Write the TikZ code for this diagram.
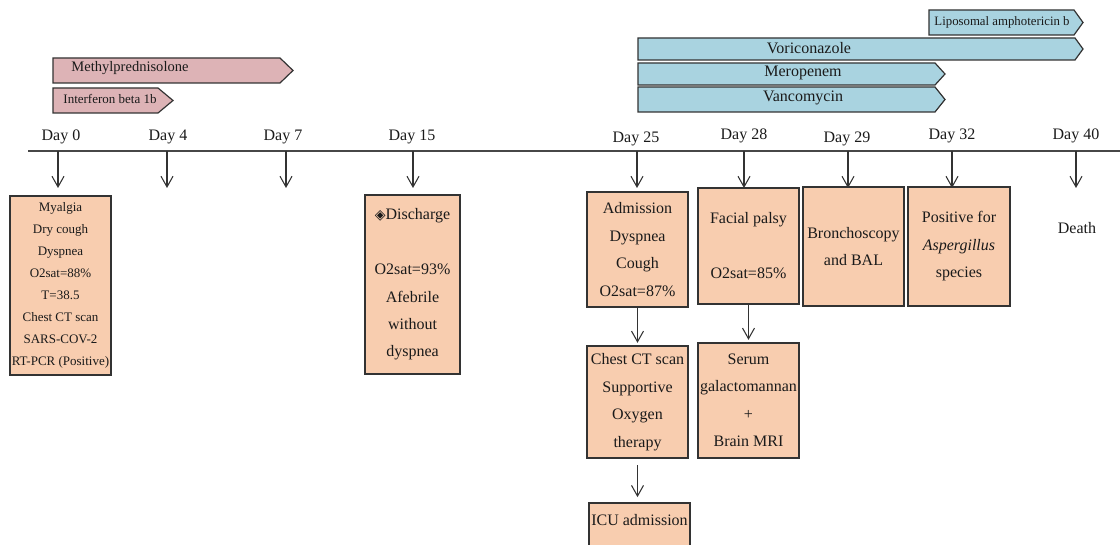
\documentclass[tikz,border=0pt]{standalone}
\usepackage{fontspec}
\setmainfont{Liberation Serif}
\newfontfamily\symfont{DejaVu Sans}
\usetikzlibrary{arrows.meta}
\definecolor{pinkfill}{HTML}{DDB3B6}
\definecolor{bluefill}{HTML}{A9D3E0}
\definecolor{peach}{HTML}{F8CDAF}
\definecolor{edge}{HTML}{333333}
\definecolor{txt}{HTML}{1A1A1A}
\begin{document}
\begin{tikzpicture}[x=0.75pt,y=-0.75pt,
  drug/.style={draw=edge, line width=0.9pt},
  drugtext/.style={text=txt, inner sep=0pt},
  big/.style={font=\fontsize{12}{20.6}\selectfont},
  small/.style={font=\fontsize{9.75}{16.5}\selectfont},
  box/.style={draw=edge, fill=peach, line width=0.8pt, align=center, inner sep=0pt, text=txt, big},
  arr/.style={draw=edge, line width=0.8pt, -{Straight Barb[length=8pt,width=9pt]}},
  tline/.style={draw=edge!90, line width=1.1pt},
  daylab/.style={text=txt, inner sep=0pt, big}
]
\useasboundingbox (0,0) rectangle (1120,545);
\fill[white] (0,0) rectangle (1120,545);

% ---- drug bars ----
\draw[drug, fill=pinkfill] (53,58) -- (280,58) -- (293,70.5) -- (280,83) -- (53,83) -- cycle;
\node[drugtext, font=\fontsize{10.9}{13}\selectfont] (methyl) at (130,68) {Methylprednisolone};
\draw[drug, fill=pinkfill] (53,88) -- (158,88) -- (173,100.5) -- (158,113) -- (53,113) -- cycle;
\node[drugtext, font=\fontsize{9.75}{12}\selectfont] (ifn) at (110,99) {Interferon beta 1b};

\draw[drug, fill=bluefill] (929,10) -- (1074,10) -- (1083,22.5) -- (1074,35) -- (929,35) -- cycle;
\node[drugtext, font=\fontsize{9.6}{12}\selectfont] (lipo) at (1002,22) {Liposomal amphotericin b};
\draw[drug, fill=bluefill] (638,38) -- (1075,38) -- (1083,49) -- (1075,60) -- (638,60) -- cycle;
\node[drugtext, big] (vori) at (809,48) {Voriconazole};
\draw[drug, fill=bluefill] (638,63) -- (935,63) -- (945,74) -- (935,85) -- (638,85) -- cycle;
\node[drugtext, big] (mero) at (803,73) {Meropenem};
\draw[drug, fill=bluefill] (638,87) -- (935,87) -- (945,99.5) -- (935,112) -- (638,112) -- cycle;
\node[drugtext, big] (vanco) at (803,98) {Vancomycin};

% ---- timeline ----
\coordinate (tlL) at (28,151);
\coordinate (tlR) at (1120,151);
\draw[tline] (tlL) -- (tlR);

\node[daylab] (d0)  at (61,137)   {Day 0};
\node[daylab] (d4)  at (168,137)  {Day 4};
\node[daylab] (d7)  at (283,137)  {Day 7};
\node[daylab] (d15) at (412,137)  {Day 15};
\node[daylab] (d25) at (636,139)  {Day 25};
\node[daylab] (d28) at (744,136)  {Day 28};
\node[daylab] (d29) at (847,139)  {Day 29};
\node[daylab] (d32) at (952,136)  {Day 32};
\node[daylab] (d40) at (1076,136) {Day 40};

\foreach \n/\x in {0/58,4/167,7/286,15/413,25/637,28/744,29/848,32/952,40/1076}{
  \coordinate (t\n) at (\x,151);
  \coordinate (e\n) at (\x,188);
  \draw[arr] (t\n) -- (e\n);
}

% ---- boxes ----
\node[box, small, minimum width=75.75pt, minimum height=134.25pt] (b0) at (60.5,285.5)
  {Myalgia\\Dry cough\\Dyspnea\\O2sat=88\%\\T=38.5\\Chest CT scan\\SARS-COV-2\\RT-PCR (Positive)};
\node[box, minimum width=71.25pt, minimum height=134.25pt] (b15) at (412.5,284.5)
  {{\symfont\fontsize{10.5}{10.5}\selectfont ◈}Discharge\\ \\O2sat=93\%\\Afebrile\\without\\dyspnea};
\node[box, minimum width=75.75pt, minimum height=86.25pt] (b25) at (637.5,249.5)
  {Admission\\Dyspnea\\Cough\\O2sat=87\%};
\node[box, minimum width=75.75pt, minimum height=87pt] (b28) at (748.5,246)
  {Facial palsy\\ \\O2sat=85\%};
\node[box, minimum width=75.75pt, minimum height=89.25pt] (b29) at (853.5,246.5)
  {Bronchoscopy\\and BAL};
\node[box, minimum width=76.5pt, minimum height=89.25pt] (b32) at (959,246.5)
  {Positive for\\\textit{Aspergillus}\\species};
\node[box, minimum width=75.75pt, minimum height=84pt] (ct) at (637.5,402)
  {Chest CT scan\\Supportive\\Oxygen\\therapy};
\node[box, minimum width=75.75pt, minimum height=86.25pt] (serum) at (748.5,400.5)
  {Serum\\galactomannan\\+\\Brain MRI};
\node[box, minimum width=75.75pt, minimum height=52.5pt] (icu) at (639.5,538)
  {ICU admission\\\strut};
\node[text=txt, inner sep=0pt, big] (death) at (1077,228) {Death};

% ---- connectors between boxes ----
\draw[arr, shorten >=2pt] (b25.south) -- (ct.north);
\draw[arr, shorten >=2pt] (b28.south) -- (serum.north);
\draw[arr, shorten <=5pt, shorten >=4pt] (ct.south) -- (icu.north -| ct.south);
\end{tikzpicture}
\end{document}
